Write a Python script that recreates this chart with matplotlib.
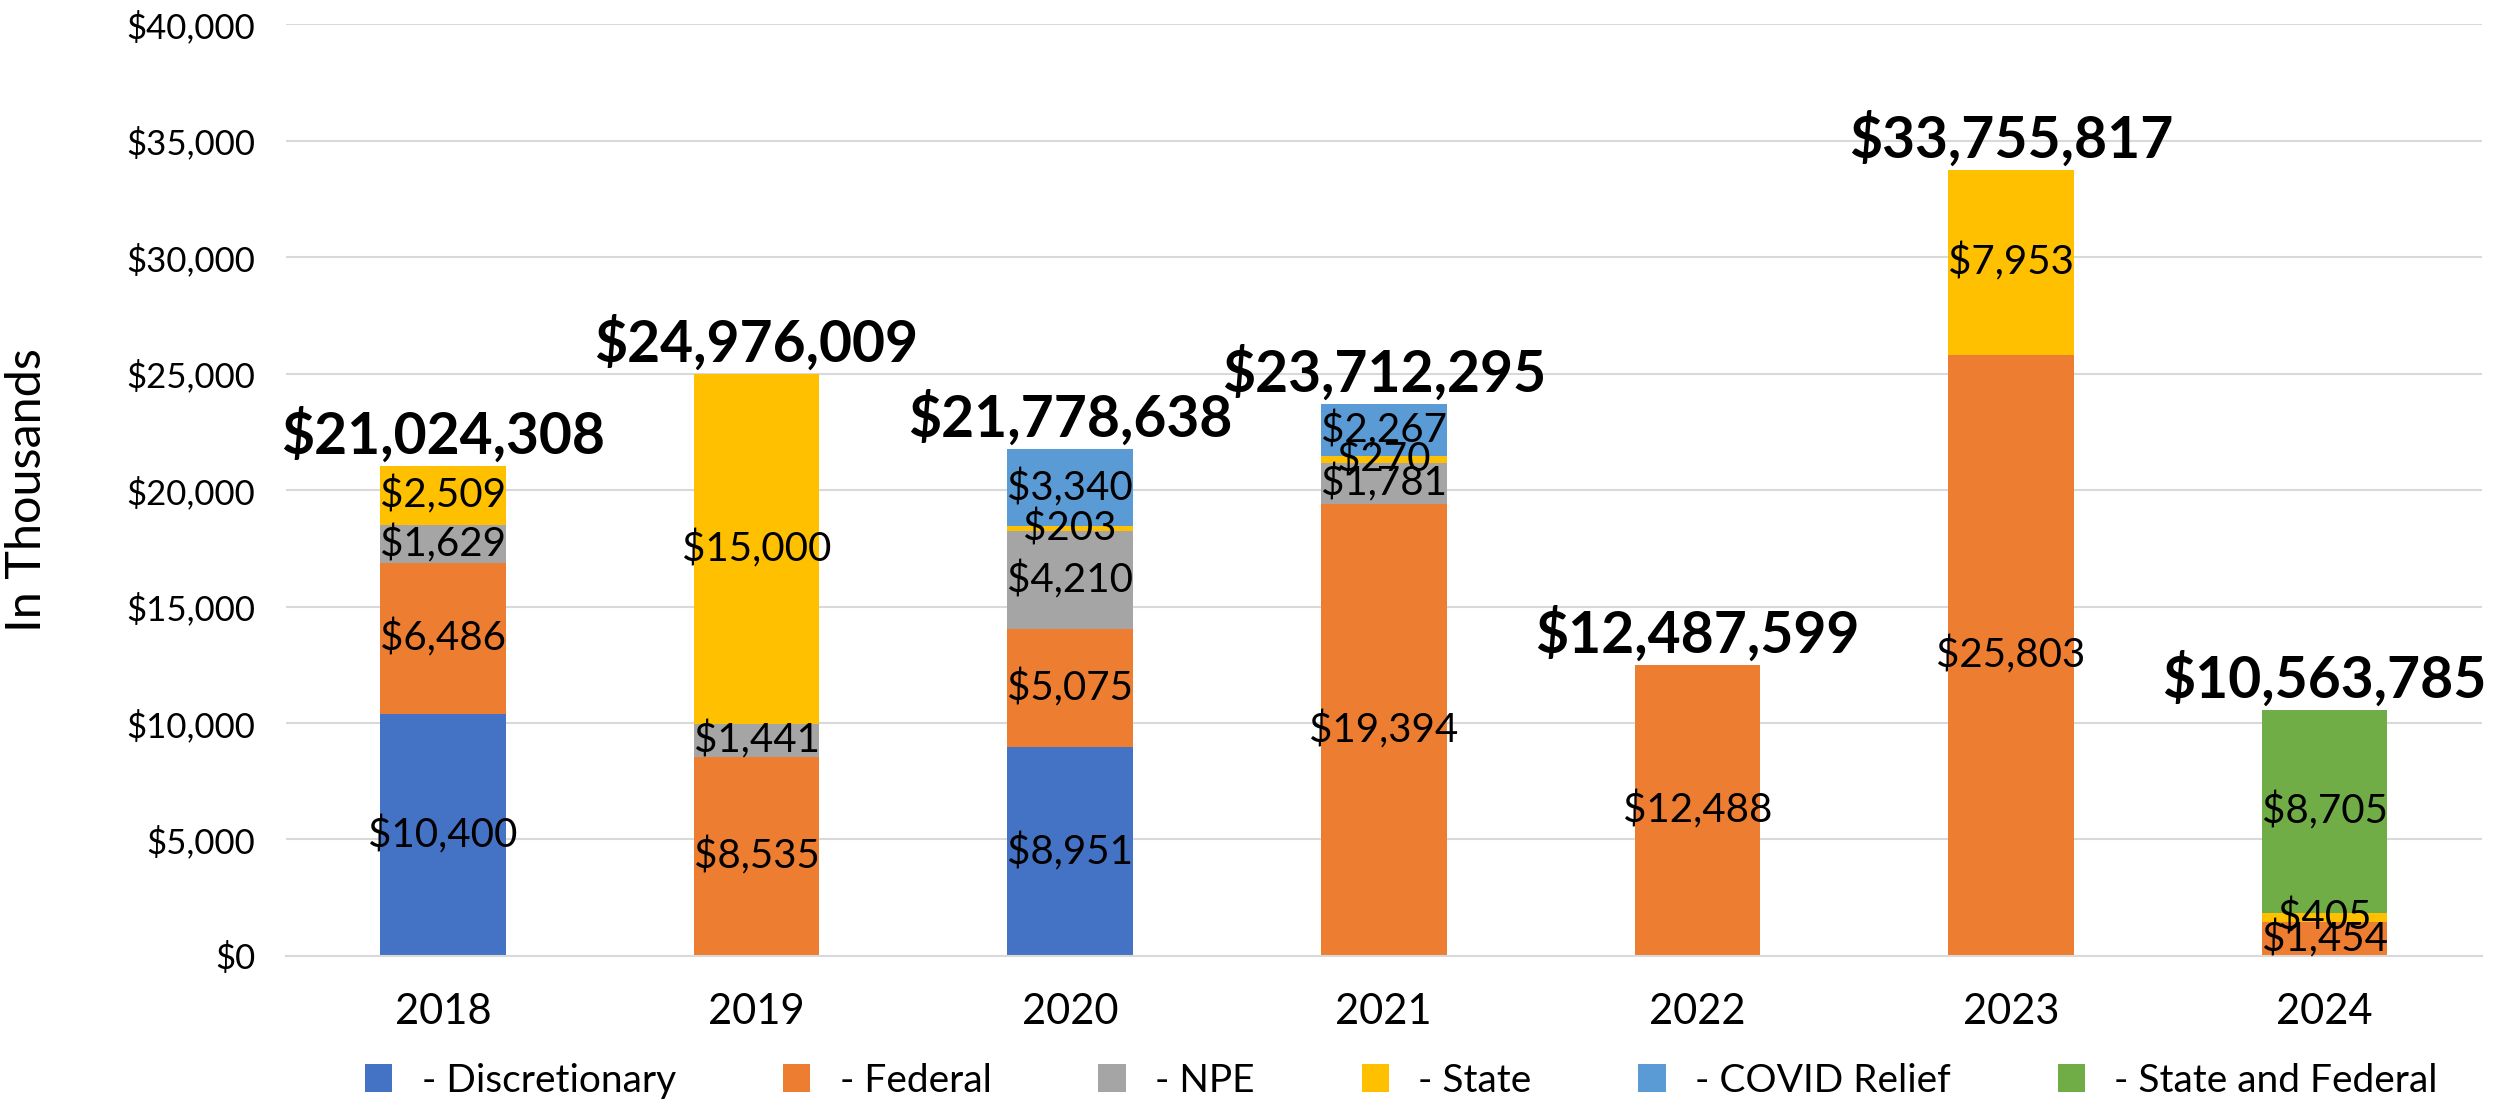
import matplotlib
matplotlib.use("Agg")
import matplotlib.pyplot as plt
import numpy as np

years = ["2018", "2019", "2020", "2021", "2022", "2023", "2024"]
series_names = [" - Discretionary", " - Federal", " - NPE", " - State", " - COVID Relief", " - State and Federal"]
discretionary = [10400, 0, 8951, 0, 0, 0, 0]
federal = [6486, 8535, 5075, 19394, 12488, 25803, 1454]
npe = [1629, 1441, 4210, 1781, 0, 0, 0]
state = [2509, 15000, 203, 270, 0, 7953, 405]
covid = [0, 0, 3340, 2267, 0, 0, 0]
state_federal = [0, 0, 0, 0, 0, 0, 8705]
totals = ["$21,024,308", "$24,976,009", "$21,778,638", "$23,712,295", "$12,487,599", "$33,755,817", "$10,563,785"]
colors = ["#4472C4", "#ED7D31", "#A5A5A5", "#FFC000", "#5B9BD5", "#70AD47"]

data = [discretionary, federal, npe, state, covid, state_federal]

fig = plt.figure(figsize=(24.94, 11.05), dpi=100)
ax = fig.add_axes([0.1147, 0.135, 0.8803, 0.843])

x = np.arange(len(years))
bottom = np.zeros(len(years))
width = 0.4
for vals, name, c in zip(data, series_names, colors):
    v = np.array(vals, dtype=float)
    ax.bar(x, v, width, bottom=bottom, color=c, label=name, zorder=2)
    for xi, (b, h) in enumerate(zip(bottom, v)):
        if h > 0:
            ax.text(xi, b + h / 2, f"${int(h):,}", ha="center", va="center",
                    fontsize=29, family="Lato", color="black", zorder=3)
    bottom += v

for xi, (tot, lab) in enumerate(zip(bottom, totals)):
    ax.text(xi, tot + 100, lab, ha="center", va="bottom", fontsize=41,
            family="Lato", fontweight="bold", color="black", zorder=4, clip_on=False)

ax.set_xlim(-0.5, len(years) - 0.5)
ax.set_ylim(0, 40000)
ax.set_yticks(np.arange(0, 40001, 5000))
ax.set_yticklabels([f"${v:,}" for v in range(0, 40001, 5000)], fontsize=25, family="Lato")
ax.set_xticks(x)
ax.set_xticklabels(years, fontsize=30, family="Lato")
ax.tick_params(axis="y", length=0, pad=22)
ax.tick_params(axis="x", length=0, pad=27)
ax.grid(axis="y", color="#D9D9D9", linewidth=1.5, zorder=0)
ax.set_axisbelow(True)
for s in ["top", "right", "left"]:
    ax.spines[s].set_visible(False)
ax.spines["bottom"].set_color("#D9D9D9")
ax.spines["bottom"].set_linewidth(1.5)
ax.set_ylabel("In Thousands", fontsize=35, family="Lato")
ax.yaxis.set_label_coords(-0.108, 0.5)

handles, labels = ax.get_legend_handles_labels()
fig.legend(handles, labels, loc="center", bbox_to_anchor=(0.562, 0.022), ncol=6,
           frameon=False, prop={"family": "Lato", "size": 28},
           handlelength=0.7, handleheight=0.7, handletextpad=0.5, columnspacing=2.75,
           borderpad=0, borderaxespad=0)

fig.savefig("out.png", dpi=100)
